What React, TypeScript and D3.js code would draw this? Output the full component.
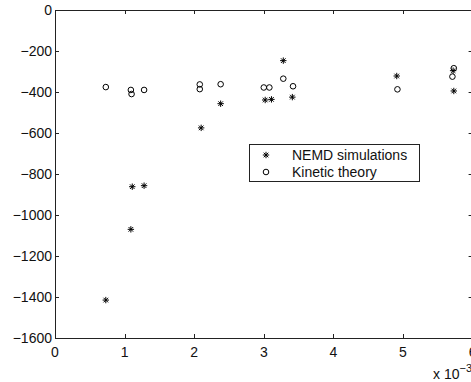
import { useEffect, useRef } from 'react'
import * as d3 from 'd3'

// NEMD simulations (x in units of 1e-3)
const nemdX = [0.73, 1.09, 1.11, 1.28, 2.10, 2.38, 3.02, 3.11, 3.28, 3.41, 4.91, 5.72, 5.73]
const nemdY = [-1415, -1070, -862, -857, -575, -457, -439, -436, -247, -425, -322, -296, -395]

// Kinetic theory
const kinX = [0.73, 1.09, 1.10, 1.28, 2.08, 2.08, 2.38, 3.00, 3.08, 3.28, 3.42, 4.92, 5.73, 5.71]
const kinY = [-376, -390, -410, -390, -363, -386, -362, -378, -378, -335, -372, -387, -284, -325]

const xTicks = [0, 1, 2, 3, 4, 5, 6]
const yTicks = [0, -200, -400, -600, -800, -1000, -1200, -1400, -1600]
const legendLabels = ['NEMD simulations', 'Kinetic theory']

const W = 471
const H = 382
const FONT = '"Liberation Sans", Arial, Helvetica, sans-serif'

function starPath(cx: number, cy: number, r: number) {
  const d = r * 0.72
  return `M${cx - r},${cy}L${cx + r},${cy}M${cx},${cy - r}L${cx},${cy + r}` +
    `M${cx - d},${cy - d}L${cx + d},${cy + d}M${cx - d},${cy + d}L${cx + d},${cy - d}`
}

function Chart() {
  const svgRef = useRef<SVGSVGElement>(null)

  useEffect(() => {
    const svg = d3.select(svgRef.current)
    svg.selectAll('*').remove()

    const x = d3.scaleLinear().domain([0, 6]).range([55, 472.6])
    const y = d3.scaleLinear().domain([-1600, 0]).range([338, 10])
    const tick = 4

    svg.append('rect').attr('width', W).attr('height', H).attr('fill', '#fff')

    const axis = svg.append('g').attr('stroke', '#222').attr('stroke-width', 1).attr('fill', 'none')
    // box
    axis.append('rect')
      .attr('x', x(0)).attr('y', y(0))
      .attr('width', x(6) - x(0)).attr('height', y(-1600) - y(0))
      .attr('shape-rendering', 'crispEdges')

    // x ticks (bottom and top, inward)
    xTicks.forEach(t => {
      const px = Math.round(x(t)) + 0.5
      axis.append('line').attr('x1', px).attr('x2', px).attr('y1', y(-1600)).attr('y2', y(-1600) - tick)
      axis.append('line').attr('x1', px).attr('x2', px).attr('y1', y(0)).attr('y2', y(0) + tick)
    })
    // y ticks (left and right, inward)
    yTicks.forEach(t => {
      const py = Math.round(y(t)) + 0.5
      axis.append('line').attr('x1', x(0)).attr('x2', x(0) + tick).attr('y1', py).attr('y2', py)
      axis.append('line').attr('x1', x(6)).attr('x2', x(6) - tick).attr('y1', py).attr('y2', py)
    })

    const labels = svg.append('g').attr('font-family', FONT).attr('font-size', 14).attr('fill', '#111')
    xTicks.forEach(t => {
      labels.append('text')
        .attr('x', x(t)).attr('y', 357)
        .attr('text-anchor', 'middle')
        .text(String(t))
    })
    yTicks.forEach(t => {
      labels.append('text')
        .attr('x', 52).attr('y', y(t)).attr('dy', '0.36em')
        .attr('text-anchor', 'end')
        .text(t === 0 ? '0' : '\u2212' + Math.abs(t))
    })
    // exponent label
    const ex = labels.append('text').attr('x', 433).attr('y', 379)
    ex.append('tspan').text('x 10')
    ex.append('tspan').attr('dy', -7).attr('font-size', 11).text('\u22123')

    // NEMD markers
    const marks = svg.append('g').attr('stroke', '#000').attr('stroke-width', 1).attr('fill', 'none')
    nemdX.forEach((v, i) => {
      marks.append('path').attr('d', starPath(x(v), y(nemdY[i]), 3.2))
    })
    // Kinetic markers
    kinX.forEach((v, i) => {
      marks.append('circle').attr('cx', x(v)).attr('cy', y(kinY[i])).attr('r', 2.8)
    })

    // legend
    const lg = svg.append('g')
    lg.append('rect')
      .attr('x', 249.5).attr('y', 144.5).attr('width', 170).attr('height', 37)
      .attr('fill', '#fff').attr('stroke', '#222').attr('stroke-width', 1)
    const rowY = [155, 172]
    lg.append('path').attr('d', starPath(266, rowY[0], 3.2)).attr('stroke', '#000').attr('fill', 'none')
    lg.append('circle').attr('cx', 266).attr('cy', rowY[1]).attr('r', 2.8).attr('stroke', '#000').attr('fill', 'none')
    legendLabels.forEach((l, i) => {
      lg.append('text')
        .attr('x', 292).attr('y', rowY[i]).attr('dy', '0.36em')
        .attr('font-family', FONT).attr('font-size', 14).attr('fill', '#111')
        .text(l)
    })
  }, [])

  return <svg ref={svgRef} width={W} height={H} style={{ display: 'block' }} />
}

export default function App() {
  return (
    <div style={{ position: 'fixed', left: 0, top: 0, width: W, height: H, overflow: 'hidden', background: '#fff' }}>
      <Chart />
    </div>
  )
}
